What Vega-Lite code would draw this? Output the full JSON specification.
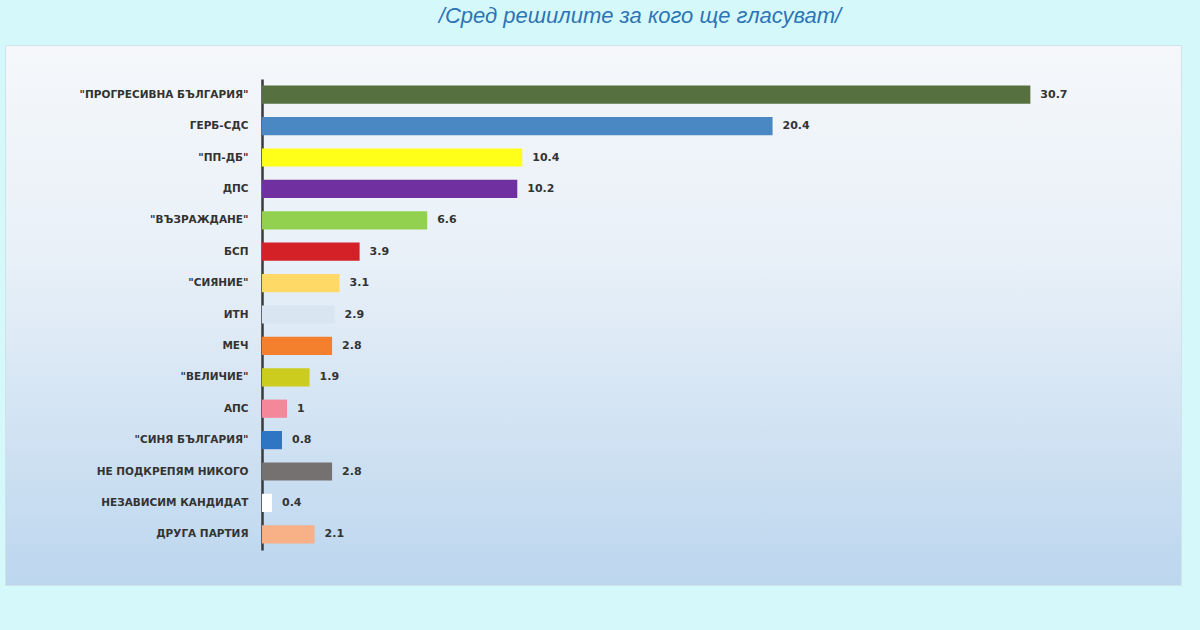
{
  "$schema": "https://vega.github.io/schema/vega-lite/v6.json",
  "width": 1176,
  "height": 540,
  "autosize": {"type": "none"},
  "padding": {"left": 5, "top": 45, "right": 19, "bottom": 45},
  "background": "#d5f9fb",
  "title": {
    "text": "/Сред решилите за кого ще гласуват/",
    "font": "Liberation Sans",
    "fontStyle": "italic",
    "fontWeight": "normal",
    "fontSize": 22,
    "color": "#2e74b5",
    "anchor": "middle",
    "dx": 47,
    "offset": 0,
    "dy": -17
  },
  "config": {
    "view": {
      "fill": {
        "gradient": "linear",
        "x1": 0, "y1": 0, "x2": 0, "y2": 1,
        "stops": [
          {"offset": 0, "color": "#f5f7fa"},
          {"offset": 0.4, "color": "#e8f0f8"},
          {"offset": 1, "color": "#bcd6ee"}
        ]
      },
      "stroke": "#cfe3ea",
      "strokeWidth": 1
    }
  },
  "data": {
    "values": [
      {"party": "\"ПРОГРЕСИВНА БЪЛГАРИЯ\"", "value": 30.7},
      {"party": "ГЕРБ-СДС", "value": 20.4},
      {"party": "\"ПП-ДБ\"", "value": 10.4},
      {"party": "ДПС", "value": 10.2},
      {"party": "\"ВЪЗРАЖДАНЕ\"", "value": 6.6},
      {"party": "БСП", "value": 3.9},
      {"party": "\"СИЯНИЕ\"", "value": 3.1},
      {"party": "ИТН", "value": 2.9},
      {"party": "МЕЧ", "value": 2.8},
      {"party": "\"ВЕЛИЧИЕ\"", "value": 1.9},
      {"party": "АПС", "value": 1},
      {"party": "\"СИНЯ БЪЛГАРИЯ\"", "value": 0.8},
      {"party": "НЕ ПОДКРЕПЯМ НИКОГО", "value": 2.8},
      {"party": "НЕЗАВИСИМ КАНДИДАТ", "value": 0.4},
      {"party": "ДРУГА ПАРТИЯ", "value": 2.1}
    ]
  },
  "encoding": {
    "y": {
      "field": "party",
      "type": "nominal",
      "sort": null,
      "scale": {"range": [34, 505], "paddingInner": 0.42, "paddingOuter": 0.21},
      "axis": {
        "title": null,
        "offset": -257,
        "ticks": false,
        "grid": false,
        "domainColor": "#3a3a3a",
        "domainWidth": 2.5,
        "labelPadding": 14,
        "labelFont": "DejaVu Sans",
        "labelFontSize": 10.5,
        "labelFontWeight": "bold",
        "labelColor": "#333333",
        "labelLimit": 300
      }
    },
    "x": {
      "field": "value",
      "type": "quantitative",
      "scale": {"domain": [0, 36], "range": [257, 1158], "nice": false, "zero": true},
      "axis": null
    }
  },
  "layer": [
    {
      "mark": {"type": "bar"},
      "encoding": {
        "color": {
          "field": "party",
          "type": "nominal",
          "legend": null,
          "scale": {
            "domain": ["\"ПРОГРЕСИВНА БЪЛГАРИЯ\"", "ГЕРБ-СДС", "\"ПП-ДБ\"", "ДПС", "\"ВЪЗРАЖДАНЕ\"", "БСП", "\"СИЯНИЕ\"", "ИТН", "МЕЧ", "\"ВЕЛИЧИЕ\"", "АПС", "\"СИНЯ БЪЛГАРИЯ\"", "НЕ ПОДКРЕПЯМ НИКОГО", "НЕЗАВИСИМ КАНДИДАТ", "ДРУГА ПАРТИЯ"],
            "range": ["#56703f", "#4a88c4", "#ffff1a", "#7030a0", "#92d050", "#d42027", "#ffd966", "#dae5f2", "#f47f2d", "#cccc1e", "#f4879a", "#2f75c4", "#767171", "#ffffff", "#f8b087"]
          }
        }
      }
    },
    {
      "mark": {
        "type": "text",
        "align": "left",
        "baseline": "middle",
        "dx": 10,
        "font": "DejaVu Sans",
        "fontSize": 11,
        "fontWeight": "bold",
        "color": "#333333"
      },
      "encoding": {
        "text": {"field": "value", "type": "quantitative"}
      }
    }
  ]
}
